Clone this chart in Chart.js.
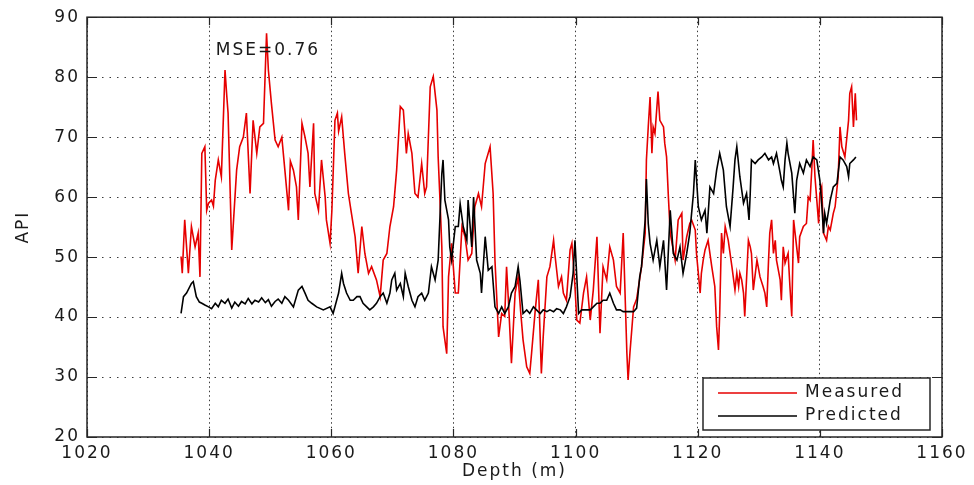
<!DOCTYPE html>
<html>
<head>
<meta charset="utf-8">
<script src="https://cdn.jsdelivr.net/npm/chart.js@4.4.1/dist/chart.umd.min.js"></script>
<style>
  html, body { margin: 0; padding: 0; background: #fff; }
  canvas { display: block; }
</style>
</head>
<body>
<canvas id="apiChart" width="974" height="485"></canvas>
<script>
// 实测曲线 (Measured)
const measuredDepth = [
  1035.4, 1035.6, 1036.0, 1036.6, 1037.1, 1037.7, 1038.2, 1038.5, 1038.8, 1039.3,
  1039.6, 1039.9, 1040.4, 1040.7, 1041.0, 1041.5, 1042.0, 1042.6, 1042.9, 1043.1,
  1043.7, 1044.0, 1044.5, 1045.0, 1045.6, 1046.1, 1046.7, 1047.2, 1047.8, 1048.3,
  1048.9, 1049.4, 1049.7, 1050.2, 1050.8, 1051.3, 1051.9, 1052.4, 1053.0, 1053.3,
  1053.8, 1054.3, 1054.6, 1055.2, 1055.7, 1056.2, 1056.5, 1057.1, 1057.3, 1057.9,
  1058.4, 1059.0, 1059.2, 1059.8, 1060.1, 1060.6, 1061.0, 1061.2, 1061.7, 1062.2,
  1062.8, 1063.3, 1063.9, 1064.4, 1065.0, 1065.5, 1066.1, 1066.6, 1067.4, 1068.0,
  1068.5, 1069.1, 1069.6, 1070.2, 1070.7, 1071.3, 1071.8, 1072.3, 1072.6, 1073.2,
  1073.7, 1074.2, 1074.8, 1075.3, 1075.6, 1076.2, 1076.7, 1077.3, 1077.5, 1077.8,
  1078.1, 1078.3, 1078.9, 1079.2, 1079.7, 1080.3, 1080.8, 1081.4, 1081.9, 1082.4,
  1083.0, 1083.5, 1084.1, 1084.6, 1085.2, 1086.0, 1086.5, 1086.8, 1087.4, 1087.9,
  1088.4, 1088.7, 1089.0, 1089.5, 1090.1, 1090.6, 1091.0, 1091.4, 1092.0, 1092.5,
  1092.8, 1093.4, 1093.9, 1094.4, 1094.7, 1095.3, 1095.8, 1096.4, 1096.6, 1097.2,
  1097.7, 1098.0, 1098.5, 1099.1, 1099.4, 1099.9, 1100.2, 1100.7, 1101.3, 1101.8,
  1102.4, 1102.9, 1103.5, 1104.0, 1104.5, 1105.1, 1105.6, 1106.2, 1106.7, 1107.3,
  1107.8, 1108.4, 1108.6, 1108.9, 1109.5, 1110.0, 1110.3, 1110.8, 1111.4, 1111.6,
  1111.9, 1112.2, 1112.5, 1112.7, 1113.0, 1113.5, 1113.8, 1114.4, 1114.6, 1114.9,
  1115.2, 1115.5, 1116.0, 1116.3, 1116.8, 1117.4, 1117.6, 1118.2, 1118.7, 1119.0,
  1119.6, 1119.8, 1120.1, 1120.4, 1120.6, 1120.9, 1121.2, 1121.7, 1122.3, 1122.8,
  1123.1, 1123.4, 1123.6, 1123.9, 1124.2, 1124.5, 1125.0, 1125.6, 1126.1, 1126.4,
  1126.7, 1126.9, 1127.2, 1127.5, 1127.7, 1128.3, 1128.6, 1128.8, 1129.1, 1129.7,
  1129.9, 1130.2, 1130.7, 1131.0, 1131.3, 1131.6, 1131.8, 1132.1, 1132.4, 1132.7,
  1132.9, 1133.5, 1133.7, 1134.0, 1134.3, 1134.8, 1135.1, 1135.4, 1135.7, 1136.2,
  1136.5, 1136.7, 1137.3, 1137.8, 1138.1, 1138.4, 1138.7, 1138.9, 1139.2, 1139.5,
  1139.8, 1140.0, 1140.3, 1140.6, 1141.1, 1141.4, 1141.7, 1142.2, 1142.5, 1143.0,
  1143.3, 1143.6, 1144.1, 1144.7, 1144.9, 1145.2, 1145.5, 1145.8, 1146.0
];
const measuredApi = [
  50.1, 47.3, 56.2, 47.3, 55.1, 51.7, 54.0, 46.7, 67.3, 68.4,
  57.8, 59.0, 59.5, 58.5, 62.8, 66.2, 63.4, 81.2, 76.7, 74.0,
  51.2, 56.2, 64.5, 68.4, 70.0, 74.0, 60.6, 72.8, 67.3, 71.7,
  72.3, 87.3, 81.2, 75.6, 69.5, 68.4, 70.0, 64.5, 57.8, 66.0,
  64.5, 61.7, 56.2, 72.3, 70.0, 67.3, 61.7, 72.3, 60.6, 57.8,
  66.2, 60.0, 56.2, 52.3, 57.8, 72.8, 74.0, 71.0, 73.4, 67.3,
  60.6, 57.3, 53.4, 47.3, 55.1, 50.6, 47.3, 48.4, 46.2, 43.4,
  49.5, 50.6, 55.1, 58.4, 64.5, 75.1, 74.5, 67.3, 70.6, 67.3,
  60.6, 60.0, 65.6, 60.6, 61.7, 78.4, 80.1, 74.5, 66.7, 59.5,
  51.7, 38.4, 33.9, 46.7, 52.3, 44.0, 44.0, 55.1, 53.4, 49.5,
  50.6, 58.4, 60.6, 58.4, 65.6, 68.4, 60.6, 49.5, 36.7, 40.6,
  40.1, 48.4, 42.8, 32.3, 44.0, 46.7, 41.0, 36.2, 31.7, 30.6,
  34.0, 41.2, 46.2, 30.6, 36.7, 46.7, 48.4, 52.8, 50.6, 45.1,
  46.7, 44.0, 42.8, 51.2, 52.3, 45.1, 39.5, 39.0, 44.0, 46.7,
  39.5, 44.5, 53.4, 37.3, 48.4, 46.2, 51.7, 49.5, 45.1, 44.0,
  54.0, 34.0, 29.5, 34.0, 41.7, 43.0, 45.0, 48.4, 54.0, 66.2,
  71.7, 76.7, 67.3, 71.7, 70.6, 77.6, 72.8, 71.7, 69.0, 66.7,
  60.0, 54.0, 51.2, 49.5, 56.2, 57.3, 49.5, 53.4, 55.6, 56.2,
  54.5, 50.6, 47.3, 44.0, 47.3, 49.5, 51.2, 52.8, 48.4, 45.1,
  38.4, 34.5, 40.6, 54.0, 50.6, 55.1, 52.8, 48.4, 44.5, 47.3,
  45.1, 47.3, 46.2, 44.0, 40.1, 52.8, 51.7, 50.6, 44.5, 49.5,
  48.4, 46.7, 45.1, 44.0, 41.7, 49.5, 54.0, 56.2, 50.6, 52.8,
  49.5, 46.2, 42.8, 51.7, 49.0, 50.6, 45.1, 40.1, 56.2, 51.7,
  49.0, 53.4, 55.1, 55.6, 60.0, 59.5, 65.1, 69.5, 63.4, 59.5,
  55.6, 60.6, 61.7, 54.0, 52.8, 55.1, 54.5, 57.3, 58.4, 63.4,
  71.7, 68.4, 66.7, 72.8, 77.3, 78.4, 71.7, 77.3, 72.8
];

// 预测曲线 (Predicted)
const predictedDepth = [
  1035.4, 1035.8, 1036.3, 1037.1, 1037.4, 1037.9, 1038.4, 1038.8, 1039.3, 1039.9,
  1040.4, 1041.0, 1041.5, 1042.0, 1042.6, 1043.1, 1043.7, 1044.2, 1044.8, 1045.3,
  1045.9, 1046.4, 1047.0, 1047.5, 1048.1, 1048.6, 1049.2, 1049.7, 1050.2, 1050.8,
  1051.3, 1051.9, 1052.4, 1053.0, 1053.8, 1054.6, 1055.2, 1055.7, 1056.2, 1056.8,
  1057.6, 1058.7, 1059.8, 1060.3, 1061.2, 1061.7, 1062.0, 1062.5, 1063.1, 1063.6,
  1064.2, 1064.7, 1065.2, 1065.8, 1066.3, 1066.9, 1067.4, 1068.0, 1068.5, 1069.1,
  1069.6, 1069.9, 1070.4, 1070.7, 1071.3, 1071.8, 1072.1, 1072.6, 1073.2, 1073.7,
  1074.2, 1074.8, 1075.3, 1075.9, 1076.4, 1077.0, 1077.5, 1078.1, 1078.3, 1078.6,
  1079.2, 1079.4, 1079.7, 1080.3, 1080.8, 1081.1, 1081.6, 1082.2, 1082.4, 1083.0,
  1083.3, 1083.8, 1084.4, 1084.6, 1085.2, 1085.7, 1086.3, 1086.8, 1087.4, 1087.9,
  1088.4, 1089.0, 1089.5, 1090.1, 1090.6, 1090.9, 1091.4, 1092.0, 1092.5, 1093.1,
  1093.6, 1094.2, 1094.7, 1095.3, 1095.8, 1096.4, 1096.9, 1097.5, 1098.0, 1098.5,
  1099.1, 1099.6, 1099.9, 1100.2, 1100.5, 1101.0, 1101.8, 1102.4, 1102.9, 1103.5,
  1104.0, 1104.5, 1105.1, 1105.6, 1106.2, 1106.7, 1107.3, 1107.8, 1108.4, 1108.9,
  1109.5, 1110.0, 1110.5, 1110.8, 1111.4, 1111.6, 1111.9, 1112.2, 1112.7, 1113.3,
  1113.8, 1114.4, 1114.9, 1115.5, 1116.0, 1116.6, 1117.1, 1117.6, 1118.2, 1118.7,
  1119.3, 1119.6, 1120.1, 1120.6, 1121.2, 1121.5, 1122.0, 1122.6, 1123.1, 1123.6,
  1124.2, 1124.7, 1125.3, 1125.8, 1126.1, 1126.4, 1126.9, 1127.5, 1128.0, 1128.4,
  1128.6, 1128.8, 1129.4, 1129.9, 1130.5, 1131.0, 1131.6, 1132.1, 1132.4, 1132.9,
  1133.5, 1133.7, 1134.0, 1134.3, 1134.6, 1134.8, 1135.4, 1135.7, 1135.9, 1136.2,
  1136.7, 1137.3, 1137.8, 1138.4, 1138.9, 1139.5, 1140.0, 1140.3, 1140.6, 1140.8,
  1141.1, 1141.7, 1142.2, 1142.8, 1143.3, 1143.8, 1144.4, 1144.7, 1144.9, 1145.5,
  1145.9
];
const predictedApi = [
  40.6, 43.4, 44.0, 45.6, 45.9, 43.4, 42.5, 42.3, 42.0, 41.7,
  41.4, 42.3, 41.7, 42.8, 42.3, 43.0, 41.5, 42.5, 41.8, 42.6,
  42.2, 43.1, 42.2, 42.8, 42.5, 43.2, 42.4, 42.9, 41.8, 42.6,
  43.0, 42.3, 43.4, 42.8, 41.7, 44.5, 45.1, 44.0, 42.8, 42.3,
  41.7, 41.2, 41.7, 40.6, 44.0, 47.3, 45.6, 44.0, 42.8, 42.8,
  43.4, 43.4, 42.3, 41.7, 41.2, 41.7, 42.3, 43.4, 44.0, 42.3,
  44.0, 46.2, 47.3, 44.5, 45.6, 43.4, 47.3, 45.1, 42.8, 41.7,
  43.4, 44.0, 42.8, 44.0, 48.4, 46.2, 49.5, 63.9, 66.2, 59.5,
  56.2, 51.7, 49.5, 55.1, 55.1, 58.9, 55.1, 52.8, 59.5, 51.7,
  60.0, 49.5, 47.3, 44.0, 53.4, 47.8, 48.4, 41.7, 40.6, 41.7,
  40.6, 41.7, 44.0, 45.1, 48.4, 46.0, 40.6, 41.2, 40.6, 41.7,
  41.2, 40.6, 41.2, 40.9, 41.2, 40.9, 41.4, 41.2, 40.6, 41.7,
  43.4, 47.3, 52.8, 46.7, 40.6, 41.2, 41.2, 41.2, 41.7, 42.3,
  42.3, 42.8, 42.8, 44.0, 42.3, 41.2, 41.2, 40.9, 40.9, 40.9,
  40.9, 41.5, 46.7, 48.4, 56.2, 63.0, 55.6, 52.3, 49.5, 52.8,
  48.4, 52.8, 44.5, 57.8, 50.6, 49.5, 51.7, 47.3, 50.6, 54.0,
  60.6, 66.2, 58.4, 56.2, 57.8, 54.0, 61.7, 60.6, 64.5, 67.3,
  64.5, 58.4, 55.1, 61.7, 66.2, 68.4, 63.4, 59.0, 60.6, 56.2,
  60.6, 66.2, 65.6, 66.2, 66.7, 67.3, 66.2, 66.7, 65.6, 67.3,
  64.0, 62.8, 61.7, 66.2, 69.0, 67.3, 64.0, 60.0, 57.3, 62.8,
  65.6, 64.0, 66.2, 65.1, 66.7, 66.2, 62.8, 59.0, 54.0, 57.3,
  55.6, 59.5, 61.7, 62.3, 66.7, 66.2, 65.1, 63.4, 65.6, 66.2,
  66.7
];

// 坐标轴刻度
const xTicks = [1020, 1040, 1060, 1080, 1100, 1120, 1140, 1160];
const yTicks = [20, 30, 40, 50, 60, 70, 80, 90];

const seriesNames = ['Measured', 'Predicted'];
const seriesColors = ['#e60000', '#000000'];
const mseLabel = 'MSE=0.76';

const FONT = 'DejaVu Sans';
const TEXT_COLOR = '#1a1a1a';

// 组合成点数据
function toPoints(depths, values) {
    return depths.map((d, i) => ({ x: d, y: values[i] }));
}

// 边框、内向刻度、注释与图例
const matlabFrame = {
    id: 'matlabFrame',
    beforeDraw(chart) {
        const ctx = chart.ctx;
        ctx.save();
        ctx.fillStyle = '#ffffff';
        ctx.fillRect(0, 0, chart.width, chart.height);
        ctx.restore();
        // 原图文字较宽
        ctx.letterSpacing = '2px';
    },
    afterDraw(chart) {
        const ctx = chart.ctx;
        const area = chart.chartArea;
        const xs = chart.scales.x;
        const ys = chart.scales.y;
        ctx.save();

        // 外框
        ctx.strokeStyle = '#262626';
        ctx.lineWidth = 1.5;
        ctx.strokeRect(area.left, area.top, area.right - area.left, area.bottom - area.top);

        // 内向刻度
        ctx.lineWidth = 1.2;
        ctx.beginPath();
        xTicks.forEach(v => {
            const px = Math.round(xs.getPixelForValue(v)) + 0.5;
            ctx.moveTo(px, area.bottom);
            ctx.lineTo(px, area.bottom - 8);
            ctx.moveTo(px, area.top);
            ctx.lineTo(px, area.top + 8);
        });
        yTicks.forEach(v => {
            const py = Math.round(ys.getPixelForValue(v)) + 0.5;
            ctx.moveTo(area.left, py);
            ctx.lineTo(area.left + 10, py);
            ctx.moveTo(area.right, py);
            ctx.lineTo(area.right - 10, py);
        });
        ctx.stroke();

        // MSE 注释
        ctx.font = `17px "${FONT}"`;
        ctx.letterSpacing = '2px';
        ctx.fillStyle = TEXT_COLOR;
        ctx.textAlign = 'left';
        ctx.textBaseline = 'middle';
        ctx.fillText(mseLabel, xs.getPixelForValue(1041.1), ys.getPixelForValue(84.5));

        // 图例
        const boxLeft = area.right - 239;
        const boxTop = area.bottom - 59;
        const boxW = 227;
        const boxH = 52;
        ctx.fillStyle = '#ffffff';
        ctx.fillRect(boxLeft, boxTop, boxW, boxH);
        ctx.strokeStyle = '#262626';
        ctx.lineWidth = 1.5;
        ctx.strokeRect(boxLeft, boxTop, boxW, boxH);

        seriesNames.forEach((name, i) => {
            const rowY = boxTop + 15 + i * 23;
            ctx.strokeStyle = seriesColors[i];
            ctx.lineWidth = 1.4;
            ctx.beginPath();
            ctx.moveTo(boxLeft + 15, rowY);
            ctx.lineTo(boxLeft + 94, rowY);
            ctx.stroke();
            ctx.fillStyle = TEXT_COLOR;
            ctx.fillText(name, boxLeft + 102, rowY);
        });

        ctx.restore();
    }
};

const ctx = document.getElementById('apiChart');

new Chart(ctx, {
    type: 'line',
    data: {
        datasets: [
            {
                label: seriesNames[0],
                data: toPoints(measuredDepth, measuredApi),
                borderColor: seriesColors[0],
                borderWidth: 1.6,
                pointRadius: 0,
                tension: 0,
                fill: false,
                order: 2
            },
            {
                label: seriesNames[1],
                data: toPoints(predictedDepth, predictedApi),
                borderColor: seriesColors[1],
                borderWidth: 1.6,
                pointRadius: 0,
                tension: 0,
                fill: false,
                order: 1
            }
        ]
    },
    options: {
        responsive: false,
        animation: false,
        devicePixelRatio: 1,
        layout: {
            padding: { top: 17, right: 32, left: 0, bottom: 0 }
        },
        plugins: {
            legend: { display: false },
            tooltip: { enabled: false }
        },
        scales: {
            x: {
                type: 'linear',
                min: 1020,
                max: 1160,
                afterBuildTicks: axis => { axis.ticks = xTicks.map(v => ({ value: v })); },
                afterFit: axis => { axis.height = 48; },
                ticks: {
                    autoSkip: false,
                    maxRotation: 0,
                    padding: 6,
                    color: TEXT_COLOR,
                    font: { family: FONT, size: 17 },
                    callback: v => String(v)
                },
                grid: {
                    color: '#3a3a3a',
                    lineWidth: 1,
                    drawTicks: false
                },
                border: { display: false, dash: [1.5, 3] },
                title: {
                    display: true,
                    text: 'Depth (m)',
                    color: TEXT_COLOR,
                    font: { family: FONT, size: 17 },
                    padding: { top: 0, bottom: 3 }
                }
            },
            y: {
                type: 'linear',
                min: 20,
                max: 90,
                afterBuildTicks: axis => { axis.ticks = yTicks.map(v => ({ value: v })); },
                afterFit: axis => { axis.width = 87; },
                ticks: {
                    padding: 7,
                    color: TEXT_COLOR,
                    font: { family: FONT, size: 17 },
                    callback: v => String(v)
                },
                grid: {
                    color: '#3a3a3a',
                    lineWidth: 1,
                    drawTicks: false
                },
                border: { display: false, dash: [1.5, 6] },
                title: {
                    display: true,
                    text: 'API',
                    color: TEXT_COLOR,
                    font: { family: FONT, size: 17 },
                    padding: { top: 13, bottom: 0 }
                }
            }
        }
    },
    plugins: [matlabFrame]
});
</script>
</body>
</html>
